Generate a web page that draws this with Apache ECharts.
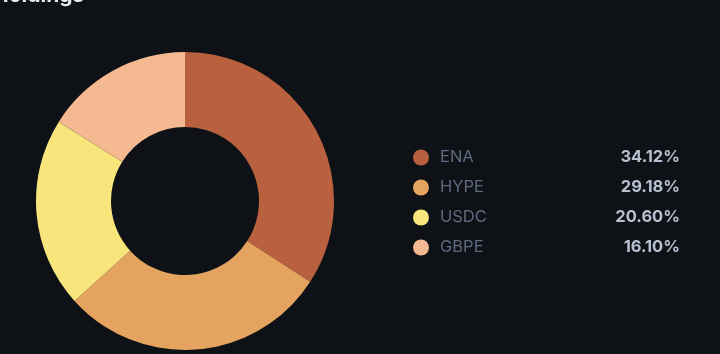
<!DOCTYPE html>
<html>
<head>
<meta charset="utf-8">
<script src="https://cdn.jsdelivr.net/npm/echarts@6/dist/echarts.min.js"></script>
<style>
html,body{margin:0;padding:0;background:#0e1116;}
#chart{width:720px;height:354px;}
</style>
</head>
<body>
<div id="chart"></div>
<script>
var names=['ENA','HYPE','USDC','GBPE'];
var values=[34.12,29.18,20.60,16.10];
var colors=['#b9613f','#e4a35e','#f8e57c','#f4b991'];

var total=0;
for(var i=0;i<values.length;i++){ total+=values[i]; }

var pieData=[];
for(var i=0;i<names.length;i++){
    pieData.push({name:names[i],value:values[i],itemStyle:{color:colors[i]}});
}

var myChart=echarts.init(document.getElementById('chart'));
var option={
    backgroundColor:'#0e1116',
    title:{
        text:'Holdings',
        left:-12,
        top:-20,
        textStyle:{color:'#e6e9ef',fontSize:21,fontWeight:'bold',fontFamily:'Inter'}
    },
    legend:{
        orient:'vertical',
        left:408,
        top:144,
        icon:'circle',
        itemWidth:16,
        itemHeight:16,
        itemGap:13,
        itemStyle:{borderWidth:0},
        formatter:function(name){
            var idx=names.indexOf(name);
            var pct=(values[idx]/total*100).toFixed(2)+'%';
            return '{n|'+name+'}{v|'+pct+'}';
        },
        textStyle:{
            fontFamily:'Inter',
            rich:{
                n:{color:'#5d6a80',fontSize:16.5,width:170,padding:[0,0,0,6],fontFamily:'Inter'},
                v:{color:'#b6c0d0',fontSize:16.5,fontWeight:'bold',width:70,align:'right',fontFamily:'Inter'}
            }
        },
        selectedMode:false
    },
    series:[{
        type:'pie',
        center:[185,201],
        radius:[74,149],
        startAngle:90,
        clockwise:true,
        label:{show:false},
        labelLine:{show:false},
        emphasis:{disabled:true},
        itemStyle:{borderWidth:0},
        data:pieData
    }]
};
myChart.setOption(option);
</script>
</body>
</html>
